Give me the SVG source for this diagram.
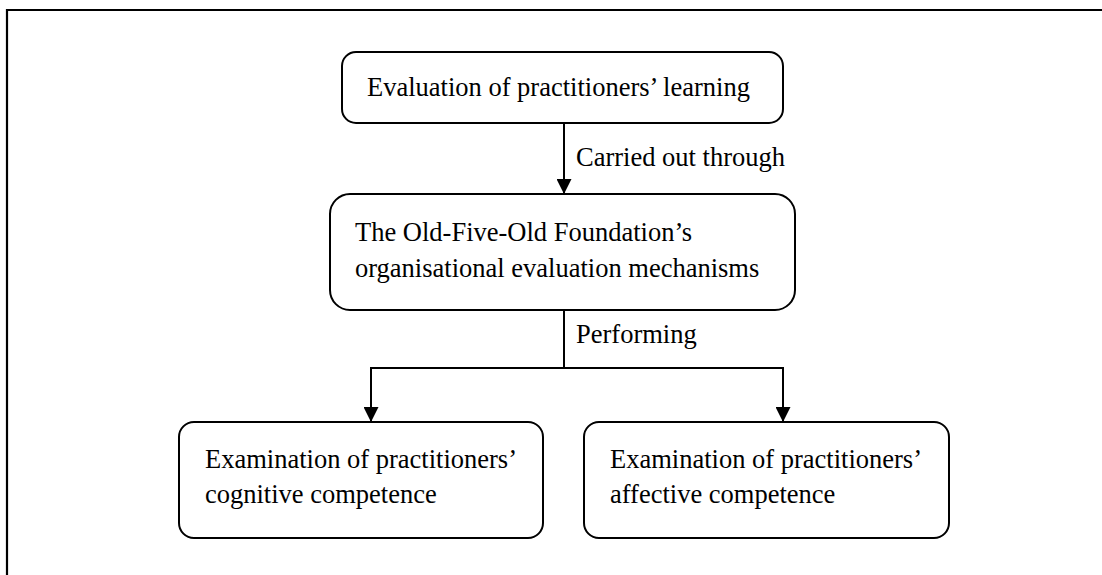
<svg xmlns="http://www.w3.org/2000/svg" width="1102" height="575" viewBox="0 0 1102 575">
<style>
.box{fill:#fff;stroke:#000;stroke-width:2}
.t{font-family:"Liberation Serif","Times New Roman",serif;font-size:26.5px;fill:#000}
.c{fill:none;stroke:#000;stroke-width:2}
</style>
<defs>
<marker id="ah" markerWidth="15" markerHeight="15" viewBox="0 0 15 15" refX="15" refY="7.5" orient="auto" markerUnits="userSpaceOnUse">
<path d="M0,0 L15,7.5 L0,15 Z" fill="#000"/>
</marker>
</defs>
<rect width="1102" height="575" fill="#fff"/>
<path d="M7,580 L7,10 L1110,10" fill="none" stroke="#000" stroke-width="2.2"/>
<g id="connectors">
<line class="c" x1="564" y1="124" x2="564" y2="194" marker-end="url(#ah)"/>
<path class="c" d="M564,310 L564,368"/>
<path class="c" d="M371,368 L783,368"/>
<line class="c" x1="371" y1="367" x2="371" y2="422" marker-end="url(#ah)"/>
<line class="c" x1="783" y1="367" x2="783" y2="422" marker-end="url(#ah)"/>
<text class="t" x="576" y="166">Carried out through</text>
<text class="t" x="576" y="343">Performing</text>
</g>
<g id="n1">
<rect class="box" x="342" y="52" width="441" height="71" rx="14"/>
<text class="t" x="367" y="96">Evaluation of practitioners’ learning</text>
</g>
<g id="n2">
<rect class="box" x="330" y="194" width="465" height="116" rx="20"/>
<text class="t" x="355" y="241">The Old-Five-Old Foundation’s</text>
<text class="t" x="355" y="277">organisational evaluation mechanisms</text>
</g>
<g id="n3">
<rect class="box" x="179" y="422" width="364" height="116" rx="15"/>
<text class="t" x="205" y="468">Examination of practitioners’</text>
<text class="t" x="205" y="503">cognitive competence</text>
</g>
<g id="n4">
<rect class="box" x="584" y="422" width="365" height="116" rx="15"/>
<text class="t" x="610" y="468">Examination of practitioners’</text>
<text class="t" x="610" y="503">affective competence</text>
</g>
</svg>
